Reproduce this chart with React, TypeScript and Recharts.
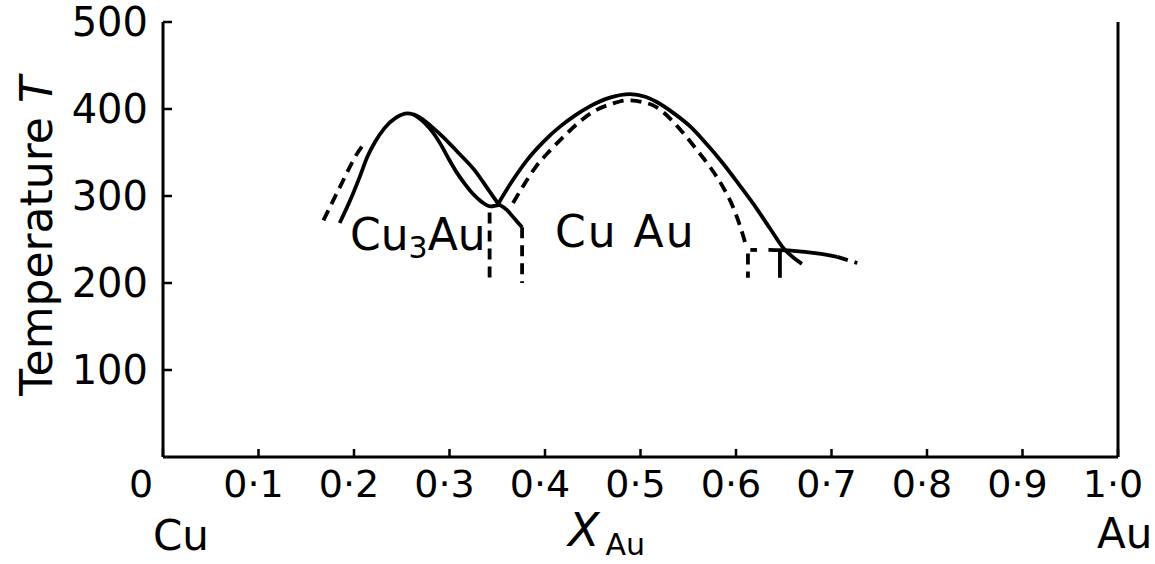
import { Customized, Line, LineChart, ReferenceLine, XAxis, YAxis } from "recharts";

type Pt = [number, number];

const font = "'DejaVu Sans', sans-serif";

const xTicks = [0, 0.1, 0.2, 0.3, 0.4, 0.5, 0.6, 0.7, 0.8, 0.9, 1];
const yTicks = [100, 200, 300, 400, 500];

// Cu3Au ordering curves
const cu3AuDashedLeft: Pt[] = [[0.168, 272], [0.186, 312], [0.204, 350], [0.212, 362]];
const cu3AuOuter: Pt[] = [
  [0.185, 269], [0.196, 295], [0.206, 322], [0.214, 345], [0.222, 362], [0.232, 378],
  [0.244, 390], [0.256, 395], [0.268, 391], [0.281, 380], [0.295, 366], [0.309, 350],
  [0.326, 330], [0.339, 310], [0.351, 291],
];
const cu3AuInner: Pt[] = [
  [0.262, 394], [0.274, 384], [0.284, 371], [0.292, 357], [0.299, 343], [0.307, 328],
  [0.316, 314], [0.325, 302], [0.334, 293], [0.343, 288], [0.353, 290],
];
const cu3AuFoot: Pt[] = [[0.351, 291], [0.36, 284], [0.368, 274], [0.376, 264]];
const boundaryA: Pt[] = [[0.342, 281], [0.342, 200]];
const boundaryB: Pt[] = [[0.376, 264], [0.376, 200]];

// CuAu ordering curves
const cuAuSolid: Pt[] = [
  [0.351, 291], [0.365, 316], [0.381, 341], [0.398, 362], [0.416, 380], [0.432, 393],
  [0.447, 403], [0.468, 413], [0.489, 417], [0.505, 414], [0.517, 408], [0.535, 395],
  [0.552, 380], [0.569, 360], [0.586, 338], [0.604, 312], [0.622, 285], [0.636, 262],
  [0.649, 241], [0.669, 222],
];
const cuAuDashed: Pt[] = [
  [0.3665, 292], [0.378, 313], [0.39, 333], [0.406, 353], [0.423, 372], [0.438, 387],
  [0.454, 399], [0.47, 406], [0.486, 410], [0.502, 408], [0.517, 402], [0.531, 389],
  [0.545, 372], [0.559, 353], [0.573, 333], [0.586, 311], [0.597, 287], [0.605, 263],
  [0.611, 241],
];
const cuAuDashedFoot: Pt[] = [[0.6125, 234], [0.6125, 206]];
const plateauTick: Pt[] = [[0.615, 238], [0.622, 238]];
const plateauSolid: Pt[] = [[0.634, 238], [0.66, 237], [0.685, 234], [0.706, 230]];
const plateauDashed: Pt[] = [[0.706, 230], [0.727, 223]];
const plateauStem: Pt[] = [[0.646, 238], [0.646, 206]];

const series: { key: string; pts: Pt[]; dashed: boolean; curve: "monotone" | "linear" }[] = [
  { key: "cu3AuDashedLeft", pts: cu3AuDashedLeft, dashed: true, curve: "monotone" },
  { key: "cu3AuOuter", pts: cu3AuOuter, dashed: false, curve: "monotone" },
  { key: "cu3AuInner", pts: cu3AuInner, dashed: false, curve: "monotone" },
  { key: "cu3AuFoot", pts: cu3AuFoot, dashed: false, curve: "monotone" },
  { key: "boundaryA", pts: boundaryA, dashed: true, curve: "linear" },
  { key: "boundaryB", pts: boundaryB, dashed: true, curve: "linear" },
  { key: "cuAuSolid", pts: cuAuSolid, dashed: false, curve: "monotone" },
  { key: "cuAuDashed", pts: cuAuDashed, dashed: true, curve: "monotone" },
  { key: "cuAuDashedFoot", pts: cuAuDashedFoot, dashed: true, curve: "linear" },
  { key: "plateauTick", pts: plateauTick, dashed: false, curve: "linear" },
  { key: "plateauSolid", pts: plateauSolid, dashed: false, curve: "monotone" },
  { key: "plateauDashed", pts: plateauDashed, dashed: true, curve: "linear" },
  { key: "plateauStem", pts: plateauStem, dashed: false, curve: "linear" },
];

const toRows = (pts: Pt[]) => pts.map(([x, t]) => ({ x, t }));

function XTick(props: any) {
  const { x, y, payload } = props;
  const v: number = payload.value;
  const label = v === 0 ? "0" : v.toFixed(1).replace(".", "·");
  return (
    <text
      x={v === 0 ? x - 22 : x - 5}
      y={y}
      dy="0.71em"
      textAnchor="middle"
      fontSize={38}
      fontFamily={font}
      fill="#000"
    >
      {label}
    </text>
  );
}

function Annotations() {
  return (
    <g fontFamily={font} fill="#000">
      <text x={350} y={250} fontSize={44}>
        Cu<tspan fontSize={30} dy={8}>3</tspan>
        <tspan dy={-8}>Au</tspan>
      </text>
      <text x={555} y={247} fontSize={44} letterSpacing={2}>
        Cu Au
      </text>
      <text x={153} y={550} fontSize={42}>
        Cu
      </text>
      <text x={1097} y={548} fontSize={42}>
        Au
      </text>
      <text x={568} y={546} fontSize={46} fontStyle="italic">
        X<tspan fontSize={30} fontStyle="normal" dx={6} dy={9}>Au</tspan>
      </text>
      <text
        transform="translate(52, 236) rotate(-90)"
        textAnchor="middle"
        fontSize={44}
      >
        Temperature <tspan fontStyle="italic">T</tspan>
      </text>
    </g>
  );
}

export default function App() {
  return (
    <div style={{ position: "absolute", left: 0, top: 0, background: "#fff" }}>
      <LineChart
        width={1155}
        height={564}
        margin={{ top: 22, right: 37, bottom: 0, left: 0 }}
        style={{ fontFamily: font }}
      >
        <XAxis
          type="number"
          dataKey="x"
          domain={[0, 1]}
          ticks={xTicks}
          height={107}
          tickSize={-8}
          tickMargin={21}
          axisLine={{ stroke: "#000", strokeWidth: 3 }}
          tickLine={{ stroke: "#000", strokeWidth: 2.5 }}
          tick={<XTick />}
          interval={0}
        />
        <YAxis
          type="number"
          dataKey="t"
          domain={[0, 500]}
          ticks={yTicks}
          width={163}
          tickSize={-9}
          tickMargin={24}
          axisLine={{ stroke: "#000", strokeWidth: 3 }}
          tickLine={{ stroke: "#000", strokeWidth: 2.5 }}
          tick={{ fontSize: 40, fill: "#000", fontFamily: font }}
          interval={0}
        />
        <ReferenceLine x={1} stroke="#000" strokeWidth={3} />
        {series.map((s) => (
          <Line
            key={s.key}
            data={toRows(s.pts)}
            dataKey="t"
            type={s.curve}
            stroke="#000"
            strokeWidth={3.8}
            strokeDasharray={s.dashed ? "11 7" : undefined}
            dot={false}
            activeDot={false}
            isAnimationActive={false}
          />
        ))}
        <Customized component={Annotations} />
      </LineChart>
    </div>
  );
}
